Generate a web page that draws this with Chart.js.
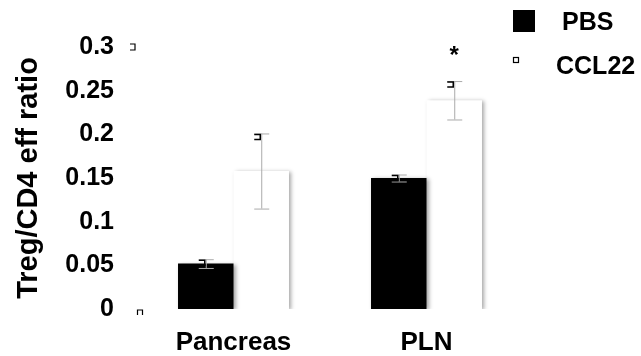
<!DOCTYPE html>
<html>
<head>
<meta charset="utf-8">
<script src="https://cdn.jsdelivr.net/npm/chart.js@4.4.0/dist/chart.umd.min.js"></script>
<style>
  html, body { margin: 0; padding: 0; background: #fff; }
  #wrap { width: 641px; height: 356px; }
</style>
</head>
<body>
<div id="wrap"><canvas id="myChart"></canvas></div>
<script>
// data
const categories = ["Pancreas", "PLN"];
const pbsValues = [0.052, 0.150];
const ccl22Values = [0.158, 0.239];
const pbsErr = [0.005, 0.004];
const ccl22Err = [0.043, 0.022];
const yTicks = [0, 0.05, 0.1, 0.15, 0.2, 0.25, 0.3];

const FONT = "'Liberation Sans', Arial, sans-serif";

// soft shadow behind bars
const barShadow = {
    id: "barShadow",
    beforeDatasetDraw(chart) {
        const ctx = chart.ctx;
        ctx.save();
        ctx.shadowColor = "rgba(0,0,0,0.35)";
        ctx.shadowBlur = 4;
        ctx.shadowOffsetX = 2;
        ctx.shadowOffsetY = 1;
    },
    afterDatasetDraw(chart) {
        chart.ctx.restore();
    }
};

// error bars, asterisk, legend and the odd axis marks
const extras = {
    id: "extras",
    afterDatasetsDraw(chart) {
        const ctx = chart.ctx;
        const y = chart.scales.y;
        const errs = [pbsErr, ccl22Err];
        const vals = [pbsValues, ccl22Values];
        ctx.save();
        for (let d = 0; d < 2; d++) {
            const meta = chart.getDatasetMeta(d);
            meta.data.forEach((bar, i) => {
                const x = bar.x;
                const top = y.getPixelForValue(vals[d][i] + errs[d][i]);
                const bot = y.getPixelForValue(vals[d][i] - errs[d][i]);
                ctx.strokeStyle = "#aaaaaa";
                ctx.lineWidth = 1;
                ctx.beginPath();
                ctx.moveTo(x + 0.5, top);
                ctx.lineTo(x + 0.5, bot);
                ctx.moveTo(x - 7, top + 0.5);
                ctx.lineTo(x + 8, top + 0.5);
                ctx.moveTo(x - 7, bot + 0.5);
                ctx.lineTo(x + 8, bot + 0.5);
                ctx.stroke();
                // little black bracket on top cap
                ctx.strokeStyle = "#000";
                ctx.lineWidth = 1.5;
                ctx.beginPath();
                ctx.moveTo(x - 7, top + 1);
                ctx.lineTo(x - 1, top + 1);
                ctx.lineTo(x - 1, top + 6);
                ctx.lineTo(x - 7, top + 6);
                ctx.stroke();
            });
        }
        // significance star
        const pln = chart.getDatasetMeta(1).data[1];
        ctx.fillStyle = "#000";
        ctx.font = "bold 24px " + FONT;
        ctx.textAlign = "center";
        ctx.textBaseline = "middle";
        ctx.fillText("*", pln.x, y.getPixelForValue(ccl22Values[1] + ccl22Err[1]) - 25);

        // marks near the axis
        const left = chart.chartArea.left;
        const y3 = y.getPixelForValue(0.3);
        const y0 = y.getPixelForValue(0);
        ctx.strokeStyle = "#000";
        ctx.lineWidth = 1.2;
        ctx.beginPath();
        ctx.moveTo(left - 7, y3 - 3);
        ctx.lineTo(left - 2, y3 - 3);
        ctx.lineTo(left - 2, y3 + 3);
        ctx.lineTo(left - 7, y3 + 3);
        ctx.stroke();
        ctx.beginPath();
        ctx.moveTo(left + 0.5, y0 + 6);
        ctx.lineTo(left + 0.5, y0 + 1);
        ctx.lineTo(left + 5.5, y0 + 1);
        ctx.lineTo(left + 5.5, y0 + 6);
        ctx.stroke();

        // legend
        const ds = chart.data.datasets;
        ctx.fillStyle = "#000";
        ctx.fillRect(513, 10, 22, 22);
        ctx.strokeStyle = "#000";
        ctx.lineWidth = 1.2;
        ctx.strokeRect(513.5, 57.5, 5, 5);
        ctx.font = "bold 25px " + FONT;
        ctx.textAlign = "left";
        ctx.textBaseline = "middle";
        ctx.fillText(ds[0].label, 562, 23);
        ctx.fillText(ds[1].label, 556, 67);
        ctx.restore();
    }
};

const ctx = document.getElementById("myChart").getContext("2d");
new Chart(ctx, {
    type: "bar",
    data: {
        labels: categories,
        datasets: [{
            label: "PBS",
            data: pbsValues,
            backgroundColor: "#000000",
            borderWidth: 0
        }, {
            label: "CCL22",
            data: ccl22Values,
            backgroundColor: "#ffffff",
            borderWidth: 0
        }]
    },
    options: {
        responsive: true,
        maintainAspectRatio: false,
        animation: false,
        layout: { padding: { top: 47, right: 118, left: 0, bottom: 0 } },
        plugins: {
            legend: { display: false },
            tooltip: { enabled: false }
        },
        datasets: {
            bar: { barPercentage: 1, categoryPercentage: 0.575 }
        },
        scales: {
            x: {
                afterFit(s) { s.height = 47; },
                grid: { display: false, drawTicks: false },
                border: { display: false },
                ticks: {
                    color: "#000",
                    padding: 18,
                    font: { family: FONT, size: 26, weight: "bold" }
                }
            },
            y: {
                min: 0,
                max: 0.3,
                afterFit(s) { s.width = 137; },
                afterBuildTicks(s) { s.ticks = yTicks.map(v => ({ value: v })); },
                grid: { display: false, drawTicks: false },
                border: { display: false },
                title: {
                    display: true,
                    text: "Treg/CD4 eff ratio",
                    color: "#000",
                    padding: { top: 12, bottom: 0 },
                    font: { family: FONT, size: 29, weight: "bold" }
                },
                ticks: {
                    color: "#000",
                    padding: 23,
                    callback: v => String(v),
                    font: { family: FONT, size: 25, weight: "bold" }
                }
            }
        }
    },
    plugins: [barShadow, extras]
});
</script>
</body>
</html>
